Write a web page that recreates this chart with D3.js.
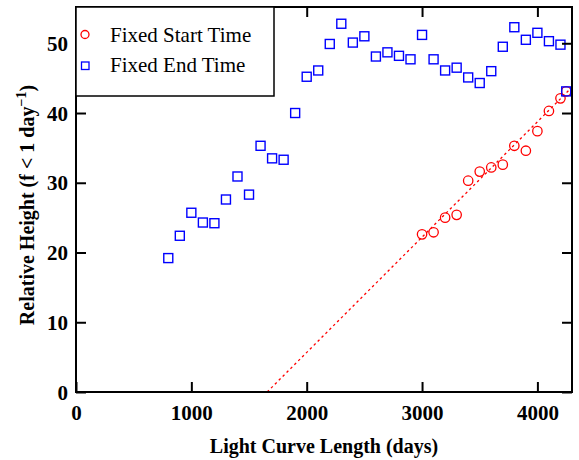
<!DOCTYPE html>
<html><head><meta charset="utf-8">
<script src="https://cdn.jsdelivr.net/npm/d3@7"></script>
<style>body{margin:0;background:#fff}svg{display:block}</style>
</head><body>
<svg id="c" width="579" height="460"></svg>
<script>
const xTicks = [0, 1000, 2000, 3000, 4000];
const yTicks = [0, 10, 20, 30, 40, 50];
const endDays = [800,900,1000,1100,1200,1300,1400,1500,1600,1700,1800,1900,2000,2100,2200,2300,2400,2500,2600,2700,2800,2900,3000,3100,3200,3300,3400,3500,3600,3700,3800,3900,4000,4100,4200,4250];
const endValues = [19.2,22.4,25.7,24.3,24.2,27.6,30.9,28.3,35.3,33.5,33.3,40.0,45.2,46.1,49.9,52.8,50.1,51.0,48.1,48.7,48.2,47.7,51.2,47.7,46.1,46.5,45.1,44.3,46.0,49.5,52.3,50.5,51.5,50.3,49.8,43.1];
const startDays = [3000,3100,3200,3300,3400,3500,3600,3700,3800,3900,4000,4100,4200,4250];
const startValues = [22.6,22.9,25.0,25.4,30.3,31.6,32.2,32.6,35.3,34.6,37.4,40.3,42.1,43.1];
const fitDays = [1657, 4300];
const fitValues = [0, 43.7];
const legendLabels = ["Fixed Start Time", "Fixed End Time"];

const svg = d3.select("#c");
const L = 76, R = 572, T = 7, B = 392;
const x = d3.scaleLinear().domain([0, 4300]).range([L, R]);
const y = d3.scaleLinear().domain([0, 55.2]).range([B, T]);
const serif = "'Liberation Serif', 'Times New Roman', serif";

// fit line
svg.append("path")
  .datum(fitDays.map((d, i) => [d, fitValues[i]]))
  .attr("d", d3.line().x(d => x(d[0])).y(d => y(d[1])))
  .attr("fill", "none").attr("stroke", "#ff0000").attr("stroke-width", 1.3)
  .attr("stroke-dasharray", "2.5,3");

// red circles
svg.append("g").selectAll("circle").data(startDays).join("circle")
  .attr("cx", d => x(d)).attr("cy", (d, i) => y(startValues[i])).attr("r", 4.7)
  .attr("fill", "none").attr("stroke", "#ff0000").attr("stroke-width", 1.3);

// blue squares
const s = 9;
svg.append("g").selectAll("rect").data(endDays).join("rect")
  .attr("x", d => x(d) - s / 2).attr("y", (d, i) => y(endValues[i]) - s / 2)
  .attr("width", s).attr("height", s)
  .attr("fill", "none").attr("stroke", "#0000ff").attr("stroke-width", 1.4);

// axes (ticks inward)
const tl = 10;
const gx = svg.append("g").attr("transform", `translate(0,${B})`)
  .call(d3.axisBottom(x).tickValues(xTicks).tickSizeInner(-tl).tickSizeOuter(0).tickPadding(tl + 3).tickFormat(d3.format("d")));
const gxt = svg.append("g").attr("transform", `translate(0,${T})`)
  .call(d3.axisTop(x).tickValues(xTicks).tickSizeInner(-tl).tickSizeOuter(0).tickFormat(""));
const gy = svg.append("g").attr("transform", `translate(${L},0)`)
  .call(d3.axisLeft(y).tickValues(yTicks).tickSizeInner(-tl).tickSizeOuter(0).tickPadding(6));
const gyr = svg.append("g").attr("transform", `translate(${R},0)`)
  .call(d3.axisRight(y).tickValues(yTicks).tickSizeInner(-tl).tickSizeOuter(0).tickFormat(""));
[gx, gxt, gy, gyr].forEach(g => {
  g.select(".domain").remove();
  g.selectAll(".tick line").attr("stroke", "#000").attr("stroke-width", 2);
  g.selectAll("text").attr("font-family", serif).attr("font-weight", "bold")
    .attr("font-size", 21).attr("fill", "#000");
});
gx.selectAll(".tick text").attr("dy", "0.71em");
gy.selectAll(".tick text").attr("dy", "0.34em").attr("dx", "-2");

// frame
svg.append("rect").attr("x", L).attr("y", T).attr("width", R - L).attr("height", B - T)
  .attr("fill", "none").attr("stroke", "#000").attr("stroke-width", 2);

// legend
const lg = svg.append("g");
lg.append("rect").attr("x", L).attr("y", T).attr("width", 198).attr("height", 89)
  .attr("fill", "#fff").attr("stroke", "#000").attr("stroke-width", 1.5);
lg.append("circle").attr("cx", 85).attr("cy", 34.5).attr("r", 4)
  .attr("fill", "none").attr("stroke", "#ff0000").attr("stroke-width", 1.3);
lg.append("rect").attr("x", 81.5).attr("y", 62).attr("width", 7.5).attr("height", 7.5)
  .attr("fill", "none").attr("stroke", "#0000ff").attr("stroke-width", 1.3);
lg.selectAll("text").data(legendLabels).join("text")
  .attr("x", 110).attr("y", (d, i) => 42 + i * 30)
  .attr("font-family", serif).attr("font-size", 21).attr("fill", "#000")
  .text(d => d);

// axis titles
svg.append("text").attr("x", (L + R) / 2).attr("y", 453).attr("text-anchor", "middle")
  .attr("font-family", serif).attr("font-weight", "bold").attr("font-size", 20)
  .text("Light Curve Length (days)");
const yl = svg.append("text").attr("transform", "translate(34,205) rotate(-90)")
  .attr("text-anchor", "middle").attr("font-family", serif).attr("font-weight", "bold").attr("font-size", 20);
yl.append("tspan").text("Relative Height (f < 1 day");
yl.append("tspan").attr("font-size", 14).attr("dy", -8).text("\u22121");
yl.append("tspan").attr("dy", 8).text(")");
</script>
</body></html>
